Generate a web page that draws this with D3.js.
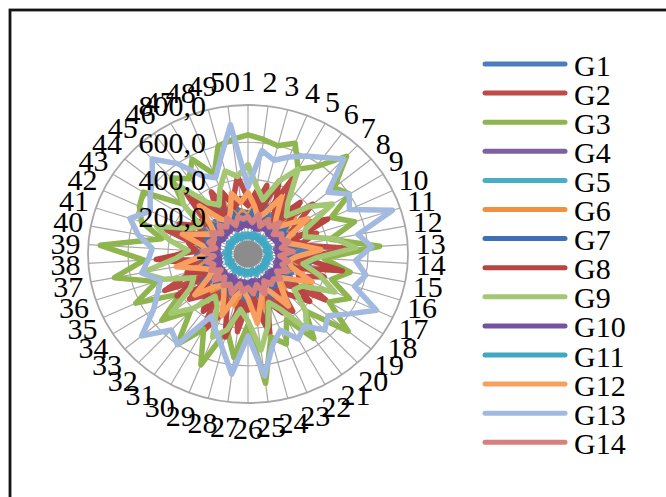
<!DOCTYPE html>
<html><head><meta charset="utf-8">
<script src="https://cdn.jsdelivr.net/npm/d3@7/dist/d3.min.js"></script>
<style>body{margin:0;background:#fff}svg{display:block}</style>
</head><body>
<svg id="chart" width="666" height="497"></svg>
<script>
const categories = d3.range(1, 51).map(String);
const seriesNames = ["G1","G2","G3","G4","G5","G6","G7","G8","G9","G10","G11","G12","G13","G14"];
const seriesColors = ["#4A7EBB","#BE4B48","#8FB54E","#7D60A0","#4BACC6","#F09040","#3F70B5","#B84542","#A3C773","#7452A0","#40A8C2","#F89F60","#A2BAE0","#D7807E"];
const tickValues = [0, 200, 400, 600, 800];
const tickLabels = ["-", "200,0", "400,0", "600,0", "800,0"];

const G1  = [220,180,300,170,240,200,320,160,230,260,180,170,290,190,310,180,240,160,270,210,230,170,300,190,250,180,320,170,240,210,270,160,230,290,200,180,260,170,300,200,230,180,290,170,240,190,280,200,250,230];
const G2  = [300,260,380,220,460,300,240,420,280,220,360,260,500,300,240,400,280,460,260,220,380,300,240,440,280,260,420,220,340,480,260,300,380,240,460,280,220,400,300,260,440,240,320,280,460,260,380,220,300,420];
const G3  = [640,620,600,640,520,580,720,560,600,460,560,420,660,380,520,440,560,480,650,420,560,400,520,460,700,380,560,420,640,460,600,420,560,400,620,480,680,520,740,440,560,600,620,420,560,500,580,460,600,620];
const G4  = [170,150,190,140,205,160,180,145,200,155,175,140,195,150,210,145,170,160,190,140,200,150,185,145,170,160,205,150,180,140,195,155,170,150,200,145,185,140,205,150,170,160,190,145,200,150,180,140,195,160];
const G5  = [108,102,115,98,112,104,118,100,110,106,114,98,112,104,116,100,110,106,114,98,112,104,118,100,110,106,114,98,112,104,116,100,110,106,114,98,112,104,118,100,110,106,114,98,112,104,116,100,110,106];
const G6  = [200,260,180,280,190,240,170,300,200,250,180,270,200,240,190,290,180,250,200,270,190,240,180,300,200,260,190,280,180,250,200,270,190,260,180,280,200,240,190,270,180,250,200,290,190,260,180,270,200,230];
const G7  = [180,240,160,270,190,220,170,260,200,230,180,280,170,240,190,250,180,270,170,230,200,260,180,240,170,280,190,230,180,260,170,240,200,270,180,230,190,260,170,250,200,240,180,270,190,230,170,260,180,210];
const G8  = [260,340,240,420,280,220,380,260,300,440,240,280,340,260,480,240,320,260,400,300,240,360,280,420,240,300,260,460,280,240,380,300,260,420,240,320,280,460,260,300,240,380,280,260,420,300,240,360,260,300];
const G9  = [480,360,300,420,520,340,280,400,500,320,300,440,540,340,280,380,480,320,300,420,500,340,280,400,520,360,300,420,480,320,280,400,500,340,300,440,540,360,300,400,480,320,280,420,500,340,300,380,460,420];
const G10 = [150,165,140,170,155,160,145,175,150,165,155,170,145,165,150,175,155,160,145,170,150,165,155,175,145,160,150,170,155,165,145,175,150,160,155,170,145,165,150,175,155,160,145,170,150,165,155,175,145,160];
const G11 = [92,100,88,104,96,92,102,90,98,94,104,88,96,100,92,102,90,98,94,104,92,96,100,88,102,94,98,92,104,90,96,100,92,102,88,98,94,104,92,96,100,90,102,94,98,92,104,88,96,94];
const G12 = [330,260,200,240,350,240,195,250,355,230,195,260,365,240,205,230,355,250,195,240,345,230,200,260,375,240,195,230,355,250,205,240,345,230,195,250,365,240,205,230,345,250,195,240,355,230,205,240,335,280];
const G13 = [360,560,520,560,600,640,700,520,600,560,760,560,620,540,600,560,710,600,520,560,480,520,440,500,660,440,650,520,440,380,600,560,690,560,500,460,540,500,480,560,620,540,580,620,700,600,480,440,540,700];
const G14 = [200,170,220,160,210,180,230,165,200,185,215,170,225,160,205,180,220,170,210,185,200,165,230,170,215,180,205,165,225,185,210,170,220,160,205,180,215,170,225,165,205,185,215,170,210,180,220,165,205,190];

const seriesValues = [G1,G2,G3,G4,G5,G6,G7,G8,G9,G10,G11,G12,G13,G14];

const svg = d3.select("#chart");
const cx = 248, cy = 254, RX = 160, RY = 149;
const font = "'Liberation Serif','Times New Roman',serif";

// frame
svg.append("rect").attr("x", 10).attr("y", 10).attr("width", 700).attr("height", 520)
  .attr("fill", "none").attr("stroke", "#141414").attr("stroke-width", 2.8);

const rX = d3.scaleLinear().domain([0, 800]).range([0, RX]);
const rY = d3.scaleLinear().domain([0, 800]).range([0, RY]);
const ang = d3.scaleLinear().domain([0, categories.length]).range([0, 2 * Math.PI]);
const px = (v, i) => rX(v) * Math.sin(ang(i));
const py = (v, i) => -rY(v) * Math.cos(ang(i));

const g = svg.append("g").attr("transform", `translate(${cx},${cy})`);

// spokes
g.append("g").selectAll("line").data(categories).join("line")
  .attr("x1", 0).attr("y1", 0)
  .attr("x2", (d, i) => px(800, i)).attr("y2", (d, i) => py(800, i))
  .attr("stroke", "#a8a8a8").attr("stroke-width", 1.2);

// dense convergence of spokes at the centre
g.append("ellipse").attr("rx", rX(72)).attr("ry", rY(72)).attr("fill", "#8c8c8c");

// grid rings
g.append("g").selectAll("ellipse").data(tickValues.slice(1)).join("ellipse")
  .attr("rx", d => rX(d)).attr("ry", d => rY(d)).attr("fill", "none")
  .attr("stroke", "#a8a8a8").attr("stroke-width", d => d === 800 ? 1.8 : 1.2);

// series
const line = d3.line().x((d, i) => px(d, i)).y((d, i) => py(d, i)).curve(d3.curveLinearClosed);
g.append("g").selectAll("path").data(seriesValues).join("path")
  .attr("d", d => line(d)).attr("fill", "none")
  .attr("stroke", (d, i) => seriesColors[i]).attr("stroke-width", 5.5)
  .attr("stroke-linejoin", "round");

// value tick labels
g.append("g").selectAll("text").data(tickValues).join("text")
  .attr("x", -42).attr("y", d => -rY(d))
  .attr("text-anchor", "end").attr("dominant-baseline", "central")
  .attr("font-family", font).attr("font-size", 30).attr("fill", "#000")
  .text((d, i) => tickLabels[i]);

// category labels
const gap = 8;
g.append("g").selectAll("text").data(categories).join("text")
  .attr("font-family", font).attr("font-size", 30).attr("fill", "#000")
  .attr("text-anchor", "middle").attr("dominant-baseline", "central")
  .text(d => d)
  .each(function (d, i) {
    const a = ang(i), s = Math.sin(a), c = Math.cos(a);
    const w = this.getComputedTextLength(), h = 34;
    d3.select(this)
      .attr("x", (RX + gap) * s + s * w / 2)
      .attr("y", -(RY + gap) * c - c * h / 2);
  });

// legend
const leg = svg.append("g");
const ly = d3.scaleLinear().domain([0, 1]).range([64, 64 + 29.1]);
const items = leg.selectAll("g").data(seriesNames).join("g")
  .attr("transform", (d, i) => `translate(0,${ly(i)})`);
items.append("line").attr("x1", 485).attr("x2", 565).attr("y1", 0).attr("y2", 0)
  .attr("stroke", (d, i) => seriesColors[i]).attr("stroke-width", 5).attr("stroke-linecap", "round");
items.append("text").attr("x", 574).attr("y", 1).attr("dominant-baseline", "central")
  .attr("font-family", font).attr("font-size", 30).attr("fill", "#000").text(d => d);
</script>
</body></html>
